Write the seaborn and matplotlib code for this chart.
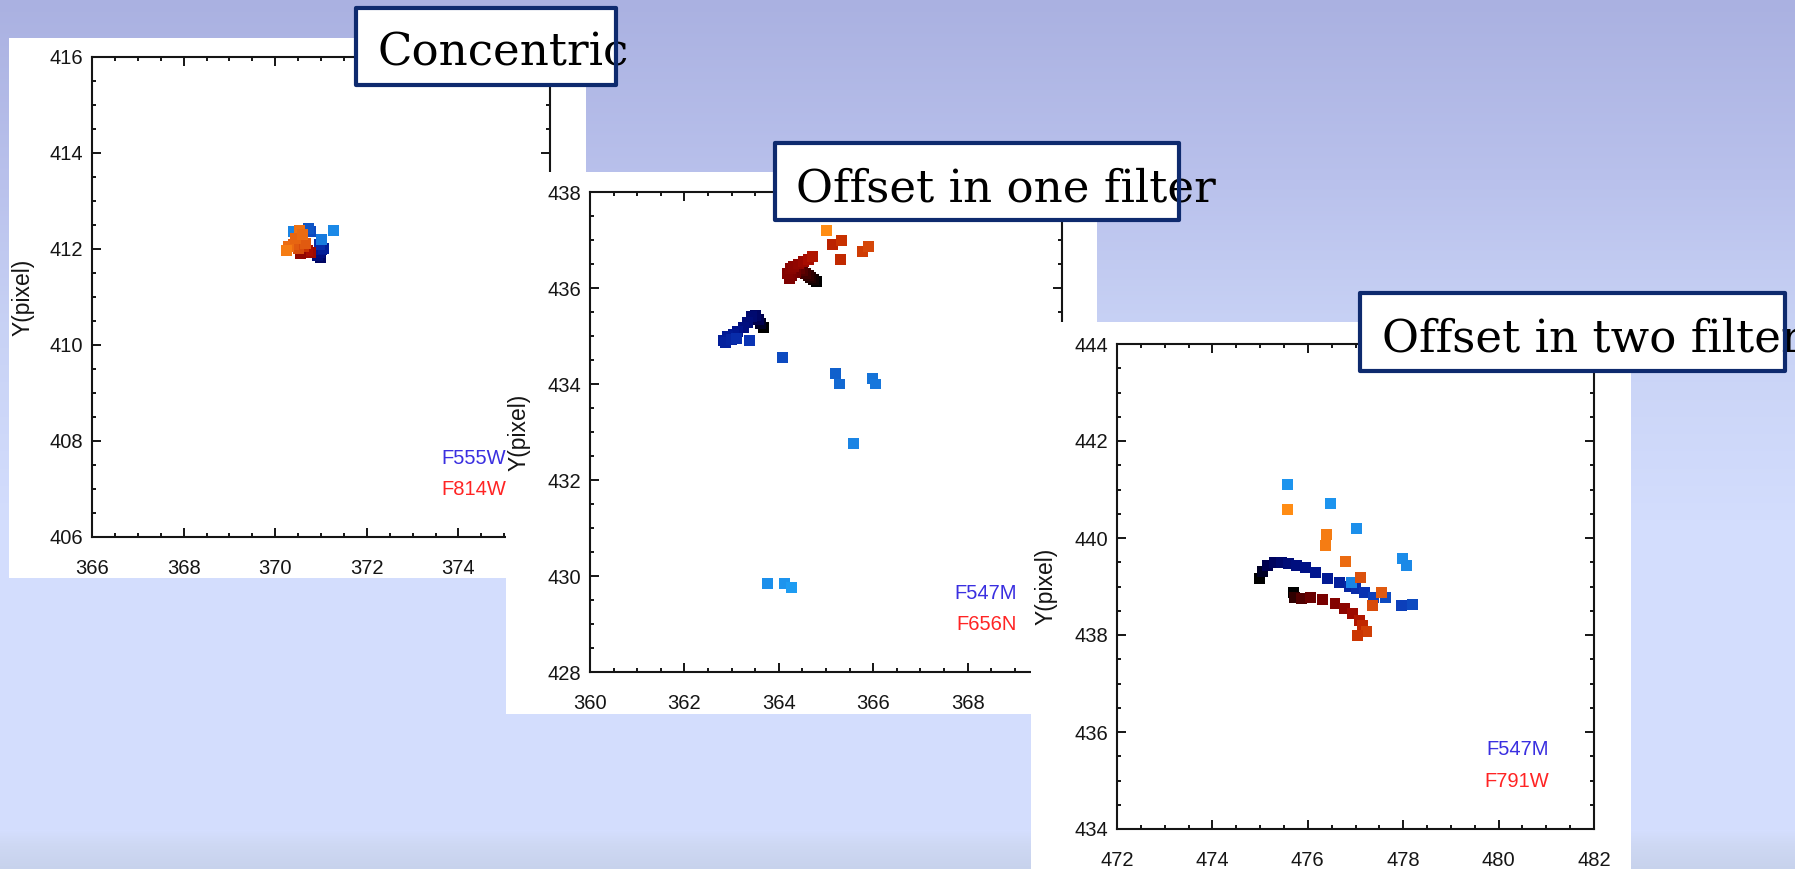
import numpy as np
import pandas as pd
import matplotlib
matplotlib.use("Agg")
import matplotlib.pyplot as plt
import seaborn as sns
from matplotlib.colors import LinearSegmentedColormap
from matplotlib.patches import Rectangle
from matplotlib.ticker import MultipleLocator

sns.set_theme(style="white")
plt.rcParams["font.family"] = ["Liberation Sans", "DejaVu Sans"]

# ---- centroid tracks (pixel coordinates), dark = early frames, light = late frames ----
# Panel 1: concentric
p1_blue_x = [370.98, 370.93, 370.97, 371.02, 371.05, 370.96, 370.78, 370.72, 371.02, 370.45, 370.40, 371.28]
p1_blue_y = [411.82, 411.86, 411.93, 411.98, 412.02, 412.10, 412.36, 412.42, 412.20, 412.30, 412.36, 412.38]
p1_blue_s = [0.15, 0.20, 0.22, 0.28, 0.32, 0.40, 0.55, 0.60, 0.80, 0.82, 0.85, 0.88]
p1_red_x = [370.78, 370.70, 370.55, 370.62, 370.50, 370.66, 370.40, 370.30, 370.54, 370.25, 370.45, 370.60]
p1_red_y = [411.93, 411.97, 411.90, 412.05, 412.02, 412.12, 412.10, 412.05, 412.38, 411.97, 412.22, 412.30]
p1_red_s = [0.45, 0.50, 0.40, 0.70, 0.80, 0.85, 0.85, 0.90, 0.92, 0.95, 0.88, 0.90]

# Panel 2: offset in one filter
p2_blue_x = [363.68, 363.62, 363.56, 363.50, 363.42, 363.34, 363.25, 363.13, 363.04, 362.92, 362.83, 362.88,
             363.00, 363.11, 363.38, 364.07, 365.21, 365.28, 365.98, 366.05, 365.59, 363.76, 364.12, 364.26]
p2_blue_y = [435.18, 435.26, 435.34, 435.42, 435.40, 435.28, 435.17, 435.09, 435.04, 435.00, 434.90, 434.86,
             434.92, 434.95, 434.90, 434.55, 434.22, 434.00, 434.12, 434.00, 432.76, 429.85, 429.85, 429.76]
p2_blue_s = [0.00, 0.05, 0.10, 0.15, 0.18, 0.20, 0.22, 0.25, 0.28, 0.30, 0.32, 0.34,
             0.36, 0.40, 0.45, 0.55, 0.65, 0.70, 0.75, 0.78, 0.85, 0.92, 0.95, 1.00]
p2_red_x = [364.80, 364.74, 364.68, 364.62, 364.56, 364.50, 364.44, 364.36, 364.28, 364.22, 364.18, 364.24,
            364.32, 364.42, 364.52, 364.62, 364.72, 365.13, 365.31, 365.33, 365.77, 365.90, 365.02]
p2_red_y = [436.14, 436.18, 436.22, 436.27, 436.31, 436.36, 436.40, 436.33, 436.26, 436.20, 436.30, 436.40,
            436.45, 436.50, 436.55, 436.60, 436.66, 436.91, 436.60, 436.99, 436.76, 436.87, 437.19]
p2_red_s = [0.00, 0.04, 0.08, 0.12, 0.16, 0.20, 0.24, 0.28, 0.30, 0.32, 0.34, 0.36,
            0.38, 0.40, 0.44, 0.50, 0.55, 0.62, 0.66, 0.70, 0.74, 0.78, 1.00]

# Panel 3: offset in two filters
p3_blue_x = [474.99, 475.05, 475.15, 475.30, 475.45, 475.60, 475.76, 475.96, 476.16, 476.42, 476.67, 476.87,
             477.01, 477.18, 477.38, 477.63, 477.96, 478.19, 476.92, 475.58, 476.47, 477.03, 477.99, 478.06]
p3_blue_y = [439.16, 439.31, 439.43, 439.50, 439.50, 439.47, 439.43, 439.39, 439.29, 439.17, 439.08, 439.00,
             438.96, 438.88, 438.77, 438.77, 438.60, 438.62, 439.08, 441.11, 440.72, 440.20, 439.58, 439.43]
p3_blue_s = [0.00, 0.05, 0.10, 0.14, 0.17, 0.20, 0.22, 0.24, 0.27, 0.30, 0.33, 0.36,
             0.40, 0.44, 0.50, 0.55, 0.50, 0.55, 0.85, 0.95, 0.95, 0.92, 0.90, 0.88]
p3_red_x = [475.71, 475.73, 475.86, 476.06, 476.31, 476.57, 476.77, 476.94, 477.08, 477.15, 477.23, 477.05,
            475.58, 476.40, 476.38, 476.80, 477.11, 477.55, 477.35]
p3_red_y = [438.88, 438.77, 438.76, 438.77, 438.73, 438.65, 438.55, 438.44, 438.30, 438.19, 438.07, 437.99,
            440.59, 440.07, 439.84, 439.52, 439.19, 438.88, 438.61]
p3_red_s = [0.00, 0.12, 0.20, 0.26, 0.30, 0.34, 0.38, 0.45, 0.55, 0.65, 0.75, 0.72,
            1.00, 0.95, 0.95, 0.90, 0.82, 0.85, 0.80]

titles = ["Concentric", "Offset in one filter", "Offset in two filter"]
filters = [("F555W", "F814W"), ("F547M", "F656N"), ("F547M", "F791W")]
xlims = [(366, 376), (360, 370), (472, 482)]
ylims = [(406, 416), (428, 438), (434, 444)]

blue_cmap = LinearSegmentedColormap.from_list(
    "blues", [(0, "#000000"), (0.1, "#000050"), (0.25, "#00128a"), (0.45, "#0a34b4"),
              (0.65, "#1060cc"), (0.85, "#1a84e4"), (1.0, "#1e9cf2")])
red_cmap = LinearSegmentedColormap.from_list(
    "reds", [(0, "#000000"), (0.15, "#3c0000"), (0.3, "#7a0000"), (0.5, "#a80c00"),
             (0.7, "#c83000"), (0.85, "#e05a10"), (1.0, "#ff8c14")])

W, H = 1795, 869
fig = plt.figure(figsize=(W / 100, H / 100), dpi=100)


def frac(x0, y0, x1, y1):
    return [x0 / W, 1 - y1 / H, (x1 - x0) / W, (y1 - y0) / H]


# slide background gradient
rows = np.arange(H)
stop_y = [0, 180, 330, 520, 830, 845, 869]
stop_c = np.array([[170, 177, 225], [185, 193, 236], [200, 210, 245], [211, 221, 253],
                   [212, 222, 254], [206, 216, 243], [199, 210, 236]]) / 255
grad = np.stack([np.interp(rows, stop_y, stop_c[:, k]) for k in range(3)], axis=1)[:, None, :]
bg = fig.add_axes([0, 0, 1, 1], zorder=0)
bg.imshow(grad, aspect="auto", extent=[0, 1, 0, 1], origin="upper")
bg.axis("off")

# white card behind each plot, and the plot frame itself (pixel boxes)
cards = [(9, 38, 586, 578), (506, 172, 1097, 714), (1031, 322, 1631, 869)]
frames = [(92, 57, 550, 537), (590, 192, 1062, 672), (1117, 344, 1594, 829)]
tracks = [
    (p1_blue_x, p1_blue_y, p1_blue_s, p1_red_x, p1_red_y, p1_red_s),
    (p2_blue_x, p2_blue_y, p2_blue_s, p2_red_x, p2_red_y, p2_red_s),
    (p3_blue_x, p3_blue_y, p3_blue_s, p3_red_x, p3_red_y, p3_red_s),
]

for i in range(3):
    c = frac(*cards[i])
    fig.patches.append(Rectangle((c[0], c[1]), c[2], c[3], transform=fig.transFigure,
                                 facecolor="white", edgecolor="none", zorder=2 * i + 1))

    ax = fig.add_axes(frac(*frames[i]))
    ax.set_zorder(2 * i + 2)
    ax.set_facecolor("white")

    bx, by, bs, rx, ry, rs = tracks[i]
    blue = pd.DataFrame({"x": bx, "y": by, "shade": bs})
    red = pd.DataFrame({"x": rx, "y": ry, "shade": rs})
    sns.scatterplot(data=blue, x="x", y="y", hue="shade", palette=blue_cmap, hue_norm=(0, 1),
                    marker="s", s=62, linewidth=0, legend=False, ax=ax)
    sns.scatterplot(data=red, x="x", y="y", hue="shade", palette=red_cmap, hue_norm=(0, 1),
                    marker="s", s=62, linewidth=0, legend=False, ax=ax)

    ax.set_xlim(*xlims[i])
    ax.set_ylim(*ylims[i])
    ax.xaxis.set_major_locator(MultipleLocator(2))
    ax.yaxis.set_major_locator(MultipleLocator(2))
    ax.xaxis.set_minor_locator(MultipleLocator(0.5))
    ax.yaxis.set_minor_locator(MultipleLocator(0.5))
    ax.tick_params(which="both", direction="in", top=True, right=True, bottom=True, left=True,
                   color="#151515", width=1.4)
    ax.tick_params(which="major", length=6.7)
    ax.tick_params(which="minor", length=3.2)
    ax.tick_params(axis="x", which="major", pad=16, labelsize=14.5, labelcolor="#151515")
    ax.tick_params(axis="y", which="major", pad=6.5, labelsize=14.5, labelcolor="#151515")
    for sp in ax.spines.values():
        sp.set_visible(True)
        sp.set_color("#151515")
        sp.set_linewidth(1.5)
    ax.set_xlabel("")
    ax.set_ylabel("Y(pixel)", fontsize=16.5, color="#151515")
    ax.yaxis.set_label_coords(-0.125, 0.5)

    ax.text(0.905, 0.163, filters[i][0], transform=ax.transAxes, ha="right", va="center",
            fontsize=14.5, color="#3a2fe0")
    ax.text(0.905, 0.098, filters[i][1], transform=ax.transAxes, ha="right", va="center",
            fontsize=14.5, color="#ff2424")

# caption boxes
boxes = [(356, 8, 616, 85), (775, 143, 1179, 220), (1360, 293, 1785, 371)]
text_pos = [(378, 65), (796, 202), (1382, 352)]
for i in range(3):
    f = frac(*boxes[i])
    fill = Rectangle((f[0], f[1]), f[2], f[3], transform=fig.transFigure,
                     facecolor="white", edgecolor="none", zorder=20)
    edge = Rectangle((f[0], f[1]), f[2], f[3], transform=fig.transFigure,
                     facecolor="none", edgecolor="#0e2a6e", linewidth=3, joinstyle="round", zorder=22)
    fig.patches.extend([fill, edge])
    fig.text(text_pos[i][0] / W, 1 - text_pos[i][1] / H, titles[i], ha="left", va="baseline",
             fontsize=32.5, family="DejaVu Serif", color="black", zorder=21)

fig.savefig("out.png", dpi=100)
